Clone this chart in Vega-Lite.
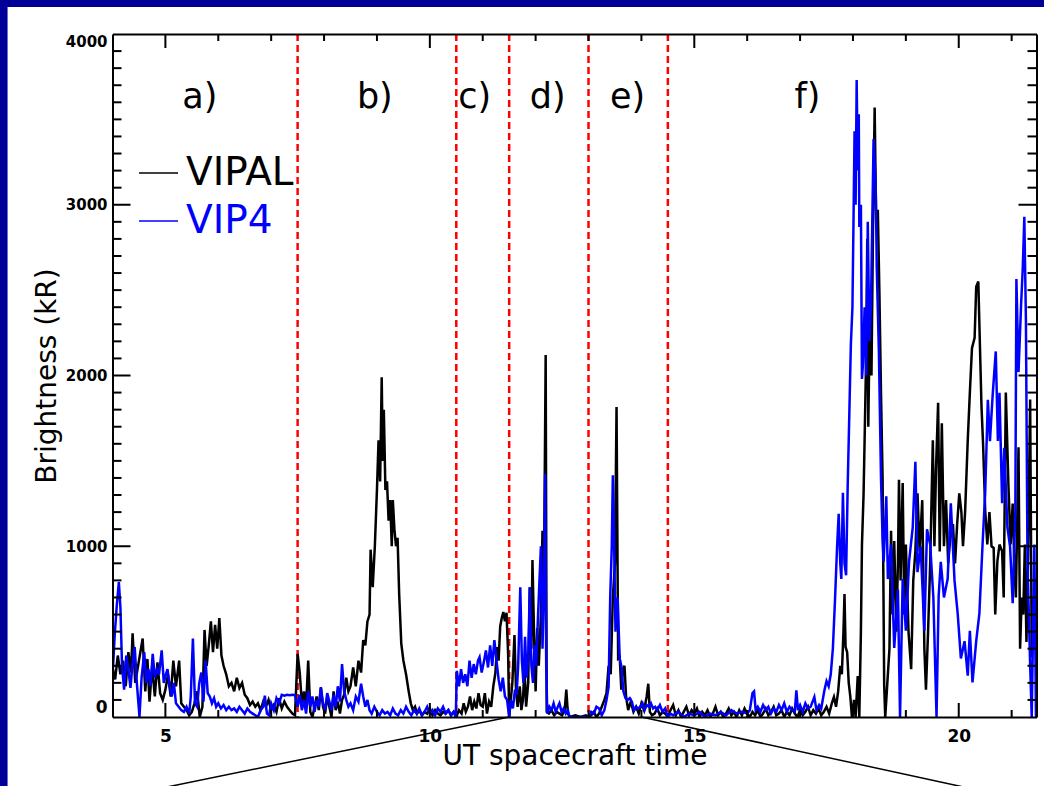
{
  "$schema": "https://vega.github.io/schema/vega-lite/v6.json",
  "width": 924,
  "height": 683,
  "autosize": {"type": "none"},
  "padding": {"left": 112.5, "top": 34, "right": 7.3, "bottom": 69},
  "background": "#ffffff",
  "config": {
    "font": "DejaVu Sans",
    "view": {"stroke": null},
    "axis": {"grid": false, "domainColor": "#000000", "tickColor": "#000000", "labelColor": "#000000", "titleColor": "#000000"}
  },
  "resolve": {"axis": {"x": "independent", "y": "independent"}},
  "datasets": {
    "xmaj": [{"t": 5}, {"t": 10}, {"t": 15}, {"t": 20}],
    "xmin": [{"t": 6}, {"t": 7}, {"t": 8}, {"t": 9}, {"t": 11}, {"t": 12}, {"t": 13}, {"t": 14}, {"t": 16}, {"t": 17}, {"t": 18}, {"t": 19}, {"t": 21}],
    "ymaj": [{"v": 1000}, {"v": 2000}, {"v": 3000}],
    "ymin": [{"v":100},{"v":200},{"v":300},{"v":400},{"v":500},{"v":600},{"v":700},{"v":800},{"v":900},{"v":1100},{"v":1200},{"v":1300},{"v":1400},{"v":1500},{"v":1600},{"v":1700},{"v":1800},{"v":1900},{"v":2100},{"v":2200},{"v":2300},{"v":2400},{"v":2500},{"v":2600},{"v":2700},{"v":2800},{"v":2900},{"v":3100},{"v":3200},{"v":3300},{"v":3400},{"v":3500},{"v":3600},{"v":3700},{"v":3800},{"v":3900}],
    "series": [
      {"s":"VIPAL","t":4.00,"v":290},{"s":"VIPAL","t":4.05,"v":220},{"s":"VIPAL","t":4.10,"v":360},{"s":"VIPAL","t":4.15,"v":250},{"s":"VIPAL","t":4.20,"v":330},{"s":"VIPAL","t":4.25,"v":180},{"s":"VIPAL","t":4.30,"v":380},{"s":"VIPAL","t":4.35,"v":260},{"s":"VIPAL","t":4.38,"v":490},{"s":"VIPAL","t":4.43,"v":200},{"s":"VIPAL","t":4.50,"v":330},{"s":"VIPAL","t":4.57,"v":460},{"s":"VIPAL","t":4.62,"v":150},{"s":"VIPAL","t":4.66,"v":340},{"s":"VIPAL","t":4.70,"v":90},{"s":"VIPAL","t":4.75,"v":300},{"s":"VIPAL","t":4.80,"v":120},{"s":"VIPAL","t":4.85,"v":320},{"s":"VIPAL","t":4.90,"v":140},{"s":"VIPAL","t":4.95,"v":100},
      {"s":"VIPAL","t":5.00,"v":160},{"s":"VIPAL","t":5.05,"v":250},{"s":"VIPAL","t":5.10,"v":120},{"s":"VIPAL","t":5.15,"v":330},{"s":"VIPAL","t":5.20,"v":180},{"s":"VIPAL","t":5.26,"v":330},{"s":"VIPAL","t":5.30,"v":80},{"s":"VIPAL","t":5.35,"v":60},{"s":"VIPAL","t":5.40,"v":40},{"s":"VIPAL","t":5.45,"v":10},{"s":"VIPAL","t":5.50,"v":30},{"s":"VIPAL","t":5.55,"v":80},{"s":"VIPAL","t":5.60,"v":150},{"s":"VIPAL","t":5.65,"v":0},{"s":"VIPAL","t":5.70,"v":60},{"s":"VIPAL","t":5.74,"v":510},{"s":"VIPAL","t":5.78,"v":300},{"s":"VIPAL","t":5.82,"v":420},{"s":"VIPAL","t":5.86,"v":560},{"s":"VIPAL","t":5.90,"v":380},{"s":"VIPAL","t":5.94,"v":540},{"s":"VIPAL","t":5.98,"v":400},
      {"s":"VIPAL","t":6.02,"v":580},{"s":"VIPAL","t":6.06,"v":360},{"s":"VIPAL","t":6.10,"v":300},{"s":"VIPAL","t":6.15,"v":250},{"s":"VIPAL","t":6.20,"v":180},{"s":"VIPAL","t":6.25,"v":200},{"s":"VIPAL","t":6.30,"v":150},{"s":"VIPAL","t":6.35,"v":230},{"s":"VIPAL","t":6.40,"v":170},{"s":"VIPAL","t":6.45,"v":200},{"s":"VIPAL","t":6.50,"v":130},{"s":"VIPAL","t":6.55,"v":110},{"s":"VIPAL","t":6.60,"v":70},{"s":"VIPAL","t":6.65,"v":90},{"s":"VIPAL","t":6.70,"v":60},{"s":"VIPAL","t":6.75,"v":80},{"s":"VIPAL","t":6.80,"v":40},{"s":"VIPAL","t":6.85,"v":90},{"s":"VIPAL","t":6.90,"v":60},{"s":"VIPAL","t":6.95,"v":100},
      {"s":"VIPAL","t":7.00,"v":40},{"s":"VIPAL","t":7.05,"v":70},{"s":"VIPAL","t":7.10,"v":30},{"s":"VIPAL","t":7.15,"v":110},{"s":"VIPAL","t":7.20,"v":50},{"s":"VIPAL","t":7.25,"v":90},{"s":"VIPAL","t":7.30,"v":60},{"s":"VIPAL","t":7.35,"v":40},{"s":"VIPAL","t":7.40,"v":20},{"s":"VIPAL","t":7.45,"v":10},{"s":"VIPAL","t":7.50,"v":370},{"s":"VIPAL","t":7.54,"v":260},{"s":"VIPAL","t":7.58,"v":80},{"s":"VIPAL","t":7.62,"v":150},{"s":"VIPAL","t":7.66,"v":60},{"s":"VIPAL","t":7.70,"v":330},{"s":"VIPAL","t":7.74,"v":30},{"s":"VIPAL","t":7.78,"v":0},{"s":"VIPAL","t":7.82,"v":60},{"s":"VIPAL","t":7.86,"v":120},{"s":"VIPAL","t":7.90,"v":40},{"s":"VIPAL","t":7.94,"v":170},{"s":"VIPAL","t":7.98,"v":60},
      {"s":"VIPAL","t":8.02,"v":20},{"s":"VIPAL","t":8.06,"v":120},{"s":"VIPAL","t":8.10,"v":60},{"s":"VIPAL","t":8.14,"v":0},{"s":"VIPAL","t":8.18,"v":150},{"s":"VIPAL","t":8.22,"v":40},{"s":"VIPAL","t":8.26,"v":90},{"s":"VIPAL","t":8.30,"v":20},{"s":"VIPAL","t":8.34,"v":100},{"s":"VIPAL","t":8.38,"v":130},{"s":"VIPAL","t":8.42,"v":230},{"s":"VIPAL","t":8.46,"v":150},{"s":"VIPAL","t":8.50,"v":180},{"s":"VIPAL","t":8.55,"v":290},{"s":"VIPAL","t":8.60,"v":180},{"s":"VIPAL","t":8.65,"v":330},{"s":"VIPAL","t":8.70,"v":260},{"s":"VIPAL","t":8.74,"v":450},{"s":"VIPAL","t":8.78,"v":420},{"s":"VIPAL","t":8.82,"v":560},{"s":"VIPAL","t":8.86,"v":600},{"s":"VIPAL","t":8.88,"v":980},{"s":"VIPAL","t":8.92,"v":760},{"s":"VIPAL","t":8.96,"v":1000},
      {"s":"VIPAL","t":9.00,"v":1330},{"s":"VIPAL","t":9.03,"v":1620},{"s":"VIPAL","t":9.06,"v":1380},{"s":"VIPAL","t":9.09,"v":1990},{"s":"VIPAL","t":9.11,"v":1500},{"s":"VIPAL","t":9.13,"v":1800},{"s":"VIPAL","t":9.16,"v":1330},{"s":"VIPAL","t":9.19,"v":1380},{"s":"VIPAL","t":9.22,"v":1150},{"s":"VIPAL","t":9.25,"v":1270},{"s":"VIPAL","t":9.28,"v":1000},{"s":"VIPAL","t":9.30,"v":1270},{"s":"VIPAL","t":9.33,"v":1100},{"s":"VIPAL","t":9.36,"v":1000},{"s":"VIPAL","t":9.39,"v":1050},{"s":"VIPAL","t":9.42,"v":720},{"s":"VIPAL","t":9.46,"v":430},{"s":"VIPAL","t":9.50,"v":330},{"s":"VIPAL","t":9.55,"v":250},{"s":"VIPAL","t":9.60,"v":150},{"s":"VIPAL","t":9.64,"v":80},{"s":"VIPAL","t":9.68,"v":40},{"s":"VIPAL","t":9.72,"v":60},{"s":"VIPAL","t":9.76,"v":20},{"s":"VIPAL","t":9.80,"v":40},{"s":"VIPAL","t":9.85,"v":10},{"s":"VIPAL","t":9.90,"v":30},{"s":"VIPAL","t":9.95,"v":20},
      {"s":"VIPAL","t":10.00,"v":50},{"s":"VIPAL","t":10.05,"v":10},{"s":"VIPAL","t":10.10,"v":40},{"s":"VIPAL","t":10.15,"v":20},{"s":"VIPAL","t":10.20,"v":10},{"s":"VIPAL","t":10.25,"v":30},{"s":"VIPAL","t":10.30,"v":20},{"s":"VIPAL","t":10.35,"v":40},{"s":"VIPAL","t":10.40,"v":10},{"s":"VIPAL","t":10.45,"v":30},{"s":"VIPAL","t":10.50,"v":0},{"s":"VIPAL","t":10.55,"v":40},{"s":"VIPAL","t":10.60,"v":20},{"s":"VIPAL","t":10.64,"v":80},{"s":"VIPAL","t":10.68,"v":30},{"s":"VIPAL","t":10.72,"v":60},{"s":"VIPAL","t":10.76,"v":120},{"s":"VIPAL","t":10.80,"v":40},{"s":"VIPAL","t":10.84,"v":90},{"s":"VIPAL","t":10.88,"v":50},{"s":"VIPAL","t":10.92,"v":140},{"s":"VIPAL","t":10.96,"v":70},
      {"s":"VIPAL","t":11.00,"v":60},{"s":"VIPAL","t":11.04,"v":140},{"s":"VIPAL","t":11.08,"v":20},{"s":"VIPAL","t":11.12,"v":90},{"s":"VIPAL","t":11.16,"v":60},{"s":"VIPAL","t":11.20,"v":180},{"s":"VIPAL","t":11.24,"v":260},{"s":"VIPAL","t":11.27,"v":410},{"s":"VIPAL","t":11.30,"v":330},{"s":"VIPAL","t":11.33,"v":530},{"s":"VIPAL","t":11.36,"v":580},{"s":"VIPAL","t":11.39,"v":615},{"s":"VIPAL","t":11.42,"v":560},{"s":"VIPAL","t":11.45,"v":610},{"s":"VIPAL","t":11.48,"v":370},{"s":"VIPAL","t":11.50,"v":0},{"s":"VIPAL","t":11.53,"v":100},{"s":"VIPAL","t":11.56,"v":200},{"s":"VIPAL","t":11.60,"v":480},{"s":"VIPAL","t":11.63,"v":150},{"s":"VIPAL","t":11.66,"v":60},{"s":"VIPAL","t":11.70,"v":180},{"s":"VIPAL","t":11.73,"v":40},{"s":"VIPAL","t":11.76,"v":100},{"s":"VIPAL","t":11.79,"v":290},{"s":"VIPAL","t":11.82,"v":60},{"s":"VIPAL","t":11.86,"v":200},{"s":"VIPAL","t":11.89,"v":760},{"s":"VIPAL","t":11.92,"v":400},{"s":"VIPAL","t":11.94,"v":920},{"s":"VIPAL","t":11.97,"v":490},
      {"s":"VIPAL","t":12.00,"v":150},{"s":"VIPAL","t":12.03,"v":520},{"s":"VIPAL","t":12.06,"v":300},{"s":"VIPAL","t":12.10,"v":600},{"s":"VIPAL","t":12.13,"v":1090},{"s":"VIPAL","t":12.16,"v":900},{"s":"VIPAL","t":12.19,"v":2120},{"s":"VIPAL","t":12.21,"v":30},{"s":"VIPAL","t":12.25,"v":20},{"s":"VIPAL","t":12.30,"v":40},{"s":"VIPAL","t":12.35,"v":10},{"s":"VIPAL","t":12.40,"v":30},{"s":"VIPAL","t":12.45,"v":20},{"s":"VIPAL","t":12.50,"v":10},{"s":"VIPAL","t":12.55,"v":40},{"s":"VIPAL","t":12.58,"v":160},{"s":"VIPAL","t":12.61,"v":20},{"s":"VIPAL","t":12.65,"v":0},{"s":"VIPAL","t":12.75,"v":10},{"s":"VIPAL","t":12.85,"v":0},{"s":"VIPAL","t":12.95,"v":10},
      {"s":"VIPAL","t":13.00,"v":0},{"s":"VIPAL","t":13.05,"v":10},{"s":"VIPAL","t":13.10,"v":30},{"s":"VIPAL","t":13.15,"v":0},{"s":"VIPAL","t":13.20,"v":20},{"s":"VIPAL","t":13.25,"v":60},{"s":"VIPAL","t":13.30,"v":100},{"s":"VIPAL","t":13.34,"v":140},{"s":"VIPAL","t":13.38,"v":300},{"s":"VIPAL","t":13.42,"v":250},{"s":"VIPAL","t":13.46,"v":700},{"s":"VIPAL","t":13.50,"v":900},{"s":"VIPAL","t":13.53,"v":1815},{"s":"VIPAL","t":13.56,"v":342},{"s":"VIPAL","t":13.59,"v":350},{"s":"VIPAL","t":13.62,"v":160},{"s":"VIPAL","t":13.65,"v":280},{"s":"VIPAL","t":13.68,"v":300},{"s":"VIPAL","t":13.71,"v":120},{"s":"VIPAL","t":13.75,"v":40},{"s":"VIPAL","t":13.80,"v":90},{"s":"VIPAL","t":13.85,"v":30},{"s":"VIPAL","t":13.90,"v":60},{"s":"VIPAL","t":13.95,"v":20},
      {"s":"VIPAL","t":14.00,"v":80},{"s":"VIPAL","t":14.05,"v":40},{"s":"VIPAL","t":14.10,"v":120},{"s":"VIPAL","t":14.13,"v":195},{"s":"VIPAL","t":14.16,"v":30},{"s":"VIPAL","t":14.20,"v":10},{"s":"VIPAL","t":14.25,"v":20},{"s":"VIPAL","t":14.30,"v":50},{"s":"VIPAL","t":14.35,"v":10},{"s":"VIPAL","t":14.40,"v":30},{"s":"VIPAL","t":14.45,"v":20},{"s":"VIPAL","t":14.50,"v":0},{"s":"VIPAL","t":14.55,"v":40},{"s":"VIPAL","t":14.60,"v":70},{"s":"VIPAL","t":14.65,"v":10},{"s":"VIPAL","t":14.70,"v":40},{"s":"VIPAL","t":14.75,"v":0},{"s":"VIPAL","t":14.80,"v":30},{"s":"VIPAL","t":14.85,"v":60},{"s":"VIPAL","t":14.90,"v":10},{"s":"VIPAL","t":14.95,"v":40},
      {"s":"VIPAL","t":15.00,"v":20},{"s":"VIPAL","t":15.05,"v":50},{"s":"VIPAL","t":15.10,"v":0},{"s":"VIPAL","t":15.15,"v":30},{"s":"VIPAL","t":15.20,"v":10},{"s":"VIPAL","t":15.25,"v":40},{"s":"VIPAL","t":15.30,"v":0},{"s":"VIPAL","t":15.35,"v":20},{"s":"VIPAL","t":15.40,"v":60},{"s":"VIPAL","t":15.45,"v":10},{"s":"VIPAL","t":15.50,"v":30},{"s":"VIPAL","t":15.55,"v":0},{"s":"VIPAL","t":15.60,"v":20},{"s":"VIPAL","t":15.65,"v":50},{"s":"VIPAL","t":15.70,"v":10},{"s":"VIPAL","t":15.75,"v":30},{"s":"VIPAL","t":15.80,"v":0},{"s":"VIPAL","t":15.85,"v":40},{"s":"VIPAL","t":15.90,"v":10},{"s":"VIPAL","t":15.95,"v":50},
      {"s":"VIPAL","t":16.00,"v":20},{"s":"VIPAL","t":16.05,"v":0},{"s":"VIPAL","t":16.10,"v":30},{"s":"VIPAL","t":16.15,"v":10},{"s":"VIPAL","t":16.20,"v":40},{"s":"VIPAL","t":16.25,"v":0},{"s":"VIPAL","t":16.30,"v":20},{"s":"VIPAL","t":16.35,"v":50},{"s":"VIPAL","t":16.40,"v":10},{"s":"VIPAL","t":16.45,"v":30},{"s":"VIPAL","t":16.50,"v":60},{"s":"VIPAL","t":16.55,"v":10},{"s":"VIPAL","t":16.60,"v":20},{"s":"VIPAL","t":16.65,"v":40},{"s":"VIPAL","t":16.70,"v":0},{"s":"VIPAL","t":16.75,"v":30},{"s":"VIPAL","t":16.80,"v":10},{"s":"VIPAL","t":16.85,"v":50},{"s":"VIPAL","t":16.90,"v":20},{"s":"VIPAL","t":16.95,"v":0},
      {"s":"VIPAL","t":17.00,"v":40},{"s":"VIPAL","t":17.05,"v":10},{"s":"VIPAL","t":17.10,"v":30},{"s":"VIPAL","t":17.15,"v":60},{"s":"VIPAL","t":17.20,"v":10},{"s":"VIPAL","t":17.25,"v":40},{"s":"VIPAL","t":17.30,"v":20},{"s":"VIPAL","t":17.35,"v":50},{"s":"VIPAL","t":17.40,"v":10},{"s":"VIPAL","t":17.45,"v":30},{"s":"VIPAL","t":17.50,"v":60},{"s":"VIPAL","t":17.55,"v":20},{"s":"VIPAL","t":17.60,"v":80},{"s":"VIPAL","t":17.64,"v":117},{"s":"VIPAL","t":17.68,"v":60},{"s":"VIPAL","t":17.72,"v":150},{"s":"VIPAL","t":17.76,"v":300},{"s":"VIPAL","t":17.79,"v":250},{"s":"VIPAL","t":17.82,"v":500},{"s":"VIPAL","t":17.84,"v":720},{"s":"VIPAL","t":17.86,"v":410},{"s":"VIPAL","t":17.89,"v":380},{"s":"VIPAL","t":17.92,"v":200},{"s":"VIPAL","t":17.95,"v":120},{"s":"VIPAL","t":17.98,"v":0},
      {"s":"VIPAL","t":18.02,"v":100},{"s":"VIPAL","t":18.05,"v":0},{"s":"VIPAL","t":18.09,"v":240},{"s":"VIPAL","t":18.12,"v":0},{"s":"VIPAL","t":18.15,"v":500},{"s":"VIPAL","t":18.17,"v":1010},{"s":"VIPAL","t":18.20,"v":1300},{"s":"VIPAL","t":18.22,"v":1620},{"s":"VIPAL","t":18.25,"v":2120},{"s":"VIPAL","t":18.27,"v":2800},{"s":"VIPAL","t":18.29,"v":1700},{"s":"VIPAL","t":18.32,"v":2400},{"s":"VIPAL","t":18.35,"v":2000},{"s":"VIPAL","t":18.38,"v":2900},{"s":"VIPAL","t":18.41,"v":3570},{"s":"VIPAL","t":18.44,"v":2870},{"s":"VIPAL","t":18.47,"v":2970},{"s":"VIPAL","t":18.50,"v":2480},{"s":"VIPAL","t":18.53,"v":1900},{"s":"VIPAL","t":18.56,"v":1400},{"s":"VIPAL","t":18.59,"v":190},{"s":"VIPAL","t":18.61,"v":0},{"s":"VIPAL","t":18.65,"v":200},{"s":"VIPAL","t":18.69,"v":400},{"s":"VIPAL","t":18.72,"v":1090},{"s":"VIPAL","t":18.75,"v":600},{"s":"VIPAL","t":18.78,"v":1030},{"s":"VIPAL","t":18.82,"v":500},{"s":"VIPAL","t":18.85,"v":900},{"s":"VIPAL","t":18.87,"v":1390},{"s":"VIPAL","t":18.90,"v":800},{"s":"VIPAL","t":18.94,"v":1370},{"s":"VIPAL","t":18.97,"v":600},
      {"s":"VIPAL","t":19.00,"v":1010},{"s":"VIPAL","t":19.05,"v":500},{"s":"VIPAL","t":19.10,"v":280},{"s":"VIPAL","t":19.14,"v":800},{"s":"VIPAL","t":19.18,"v":970},{"s":"VIPAL","t":19.22,"v":1310},{"s":"VIPAL","t":19.26,"v":970},{"s":"VIPAL","t":19.31,"v":1270},{"s":"VIPAL","t":19.35,"v":400},{"s":"VIPAL","t":19.38,"v":160},{"s":"VIPAL","t":19.42,"v":500},{"s":"VIPAL","t":19.46,"v":900},{"s":"VIPAL","t":19.51,"v":1620},{"s":"VIPAL","t":19.54,"v":1000},{"s":"VIPAL","t":19.57,"v":1450},{"s":"VIPAL","t":19.61,"v":1840},{"s":"VIPAL","t":19.64,"v":970},{"s":"VIPAL","t":19.68,"v":1720},{"s":"VIPAL","t":19.72,"v":1000},{"s":"VIPAL","t":19.76,"v":1270},{"s":"VIPAL","t":19.80,"v":900},{"s":"VIPAL","t":19.84,"v":1050},{"s":"VIPAL","t":19.89,"v":1130},{"s":"VIPAL","t":19.93,"v":900},{"s":"VIPAL","t":19.97,"v":1130},
      {"s":"VIPAL","t":20.01,"v":1310},{"s":"VIPAL","t":20.05,"v":1200},{"s":"VIPAL","t":20.08,"v":1000},{"s":"VIPAL","t":20.12,"v":1200},{"s":"VIPAL","t":20.17,"v":1620},{"s":"VIPAL","t":20.21,"v":1900},{"s":"VIPAL","t":20.25,"v":2160},{"s":"VIPAL","t":20.30,"v":2220},{"s":"VIPAL","t":20.33,"v":2520},{"s":"VIPAL","t":20.37,"v":2550},{"s":"VIPAL","t":20.40,"v":2180},{"s":"VIPAL","t":20.43,"v":1820},{"s":"VIPAL","t":20.46,"v":1600},{"s":"VIPAL","t":20.50,"v":1210},{"s":"VIPAL","t":20.54,"v":1010},{"s":"VIPAL","t":20.58,"v":1200},{"s":"VIPAL","t":20.62,"v":1000},{"s":"VIPAL","t":20.66,"v":990},{"s":"VIPAL","t":20.69,"v":600},{"s":"VIPAL","t":20.73,"v":910},{"s":"VIPAL","t":20.77,"v":1010},{"s":"VIPAL","t":20.82,"v":970},{"s":"VIPAL","t":20.85,"v":700},{"s":"VIPAL","t":20.89,"v":1900},{"s":"VIPAL","t":20.94,"v":1350},{"s":"VIPAL","t":20.98,"v":1010},
      {"s":"VIPAL","t":21.02,"v":1250},{"s":"VIPAL","t":21.05,"v":900},{"s":"VIPAL","t":21.08,"v":700},{"s":"VIPAL","t":21.13,"v":1580},{"s":"VIPAL","t":21.16,"v":400},{"s":"VIPAL","t":21.19,"v":700},{"s":"VIPAL","t":21.22,"v":600},{"s":"VIPAL","t":21.25,"v":1010},{"s":"VIPAL","t":21.28,"v":440},{"s":"VIPAL","t":21.31,"v":900},{"s":"VIPAL","t":21.35,"v":1860},{"s":"VIPAL","t":21.38,"v":350},{"s":"VIPAL","t":21.42,"v":700},{"s":"VIPAL","t":21.46,"v":400},

      {"s":"VIP4","t":4.00,"v":230},{"s":"VIP4","t":4.04,"v":470},{"s":"VIP4","t":4.08,"v":650},{"s":"VIP4","t":4.12,"v":790},{"s":"VIP4","t":4.15,"v":640},{"s":"VIP4","t":4.18,"v":300},{"s":"VIP4","t":4.22,"v":160},{"s":"VIP4","t":4.26,"v":360},{"s":"VIP4","t":4.30,"v":280},{"s":"VIP4","t":4.34,"v":170},{"s":"VIP4","t":4.38,"v":320},{"s":"VIP4","t":4.42,"v":410},{"s":"VIP4","t":4.46,"v":200},{"s":"VIP4","t":4.51,"v":0},{"s":"VIP4","t":4.55,"v":230},{"s":"VIP4","t":4.60,"v":380},{"s":"VIP4","t":4.64,"v":200},{"s":"VIP4","t":4.68,"v":280},{"s":"VIP4","t":4.72,"v":180},{"s":"VIP4","t":4.76,"v":370},{"s":"VIP4","t":4.80,"v":230},{"s":"VIP4","t":4.84,"v":280},{"s":"VIP4","t":4.88,"v":250},{"s":"VIP4","t":4.93,"v":390},{"s":"VIP4","t":4.97,"v":200},
      {"s":"VIP4","t":5.00,"v":240},{"s":"VIP4","t":5.04,"v":280},{"s":"VIP4","t":5.08,"v":180},{"s":"VIP4","t":5.12,"v":120},{"s":"VIP4","t":5.16,"v":200},{"s":"VIP4","t":5.20,"v":80},{"s":"VIP4","t":5.25,"v":60},{"s":"VIP4","t":5.30,"v":40},{"s":"VIP4","t":5.35,"v":30},{"s":"VIP4","t":5.40,"v":60},{"s":"VIP4","t":5.45,"v":20},{"s":"VIP4","t":5.48,"v":120},{"s":"VIP4","t":5.52,"v":460},{"s":"VIP4","t":5.56,"v":80},{"s":"VIP4","t":5.60,"v":60},{"s":"VIP4","t":5.64,"v":200},{"s":"VIP4","t":5.68,"v":260},{"s":"VIP4","t":5.72,"v":90},{"s":"VIP4","t":5.76,"v":330},{"s":"VIP4","t":5.80,"v":140},{"s":"VIP4","t":5.84,"v":120},{"s":"VIP4","t":5.88,"v":80},{"s":"VIP4","t":5.92,"v":110},{"s":"VIP4","t":5.96,"v":60},
      {"s":"VIP4","t":6.00,"v":80},{"s":"VIP4","t":6.05,"v":50},{"s":"VIP4","t":6.10,"v":70},{"s":"VIP4","t":6.15,"v":40},{"s":"VIP4","t":6.20,"v":60},{"s":"VIP4","t":6.25,"v":40},{"s":"VIP4","t":6.30,"v":50},{"s":"VIP4","t":6.35,"v":30},{"s":"VIP4","t":6.40,"v":60},{"s":"VIP4","t":6.45,"v":40},{"s":"VIP4","t":6.50,"v":20},{"s":"VIP4","t":6.55,"v":50},{"s":"VIP4","t":6.60,"v":30},{"s":"VIP4","t":6.65,"v":20},{"s":"VIP4","t":6.70,"v":10},{"s":"VIP4","t":6.75,"v":0},{"s":"VIP4","t":6.80,"v":40},{"s":"VIP4","t":6.85,"v":60},{"s":"VIP4","t":6.88,"v":125},{"s":"VIP4","t":6.92,"v":20},{"s":"VIP4","t":6.96,"v":10},
      {"s":"VIP4","t":7.00,"v":80},{"s":"VIP4","t":7.05,"v":40},{"s":"VIP4","t":7.10,"v":110},{"s":"VIP4","t":7.15,"v":80},{"s":"VIP4","t":7.20,"v":130},{"s":"VIP4","t":7.25,"v":125},{"s":"VIP4","t":7.30,"v":130},{"s":"VIP4","t":7.35,"v":128},{"s":"VIP4","t":7.40,"v":130},{"s":"VIP4","t":7.45,"v":128},{"s":"VIP4","t":7.50,"v":60},{"s":"VIP4","t":7.54,"v":130},{"s":"VIP4","t":7.58,"v":40},{"s":"VIP4","t":7.62,"v":100},{"s":"VIP4","t":7.66,"v":20},{"s":"VIP4","t":7.70,"v":150},{"s":"VIP4","t":7.74,"v":60},{"s":"VIP4","t":7.78,"v":120},{"s":"VIP4","t":7.82,"v":30},{"s":"VIP4","t":7.86,"v":100},{"s":"VIP4","t":7.90,"v":60},{"s":"VIP4","t":7.94,"v":175},{"s":"VIP4","t":7.98,"v":80},
      {"s":"VIP4","t":8.02,"v":40},{"s":"VIP4","t":8.06,"v":140},{"s":"VIP4","t":8.10,"v":90},{"s":"VIP4","t":8.14,"v":40},{"s":"VIP4","t":8.18,"v":130},{"s":"VIP4","t":8.22,"v":60},{"s":"VIP4","t":8.26,"v":180},{"s":"VIP4","t":8.30,"v":90},{"s":"VIP4","t":8.34,"v":310},{"s":"VIP4","t":8.38,"v":150},{"s":"VIP4","t":8.42,"v":100},{"s":"VIP4","t":8.46,"v":60},{"s":"VIP4","t":8.50,"v":80},{"s":"VIP4","t":8.55,"v":40},{"s":"VIP4","t":8.60,"v":120},{"s":"VIP4","t":8.65,"v":90},{"s":"VIP4","t":8.70,"v":195},{"s":"VIP4","t":8.74,"v":120},{"s":"VIP4","t":8.78,"v":60},{"s":"VIP4","t":8.82,"v":100},{"s":"VIP4","t":8.86,"v":40},{"s":"VIP4","t":8.90,"v":20},{"s":"VIP4","t":8.95,"v":60},
      {"s":"VIP4","t":9.00,"v":30},{"s":"VIP4","t":9.05,"v":10},{"s":"VIP4","t":9.10,"v":40},{"s":"VIP4","t":9.15,"v":20},{"s":"VIP4","t":9.20,"v":30},{"s":"VIP4","t":9.25,"v":10},{"s":"VIP4","t":9.30,"v":50},{"s":"VIP4","t":9.35,"v":20},{"s":"VIP4","t":9.40,"v":10},{"s":"VIP4","t":9.45,"v":40},{"s":"VIP4","t":9.50,"v":20},{"s":"VIP4","t":9.55,"v":60},{"s":"VIP4","t":9.60,"v":30},{"s":"VIP4","t":9.65,"v":10},{"s":"VIP4","t":9.70,"v":40},{"s":"VIP4","t":9.75,"v":20},{"s":"VIP4","t":9.80,"v":50},{"s":"VIP4","t":9.85,"v":10},{"s":"VIP4","t":9.90,"v":30},{"s":"VIP4","t":9.95,"v":60},
      {"s":"VIP4","t":10.00,"v":20},{"s":"VIP4","t":10.05,"v":40},{"s":"VIP4","t":10.10,"v":10},{"s":"VIP4","t":10.15,"v":50},{"s":"VIP4","t":10.20,"v":30},{"s":"VIP4","t":10.25,"v":60},{"s":"VIP4","t":10.30,"v":20},{"s":"VIP4","t":10.35,"v":40},{"s":"VIP4","t":10.40,"v":10},{"s":"VIP4","t":10.45,"v":30},{"s":"VIP4","t":10.49,"v":0},{"s":"VIP4","t":10.51,"v":270},{"s":"VIP4","t":10.55,"v":180},{"s":"VIP4","t":10.59,"v":280},{"s":"VIP4","t":10.63,"v":200},{"s":"VIP4","t":10.67,"v":250},{"s":"VIP4","t":10.71,"v":180},{"s":"VIP4","t":10.75,"v":330},{"s":"VIP4","t":10.79,"v":230},{"s":"VIP4","t":10.83,"v":310},{"s":"VIP4","t":10.87,"v":250},{"s":"VIP4","t":10.91,"v":330},{"s":"VIP4","t":10.94,"v":350},{"s":"VIP4","t":10.98,"v":260},
      {"s":"VIP4","t":11.02,"v":320},{"s":"VIP4","t":11.06,"v":390},{"s":"VIP4","t":11.10,"v":290},{"s":"VIP4","t":11.14,"v":420},{"s":"VIP4","t":11.18,"v":300},{"s":"VIP4","t":11.22,"v":450},{"s":"VIP4","t":11.26,"v":330},{"s":"VIP4","t":11.30,"v":220},{"s":"VIP4","t":11.34,"v":150},{"s":"VIP4","t":11.38,"v":230},{"s":"VIP4","t":11.42,"v":120},{"s":"VIP4","t":11.46,"v":100},{"s":"VIP4","t":11.50,"v":0},{"s":"VIP4","t":11.53,"v":100},{"s":"VIP4","t":11.57,"v":50},{"s":"VIP4","t":11.61,"v":160},{"s":"VIP4","t":11.64,"v":130},{"s":"VIP4","t":11.67,"v":300},{"s":"VIP4","t":11.71,"v":760},{"s":"VIP4","t":11.74,"v":330},{"s":"VIP4","t":11.77,"v":200},{"s":"VIP4","t":11.80,"v":470},{"s":"VIP4","t":11.83,"v":230},{"s":"VIP4","t":11.86,"v":350},{"s":"VIP4","t":11.89,"v":760},{"s":"VIP4","t":11.92,"v":300},{"s":"VIP4","t":11.95,"v":200},{"s":"VIP4","t":11.98,"v":420},
      {"s":"VIP4","t":12.01,"v":300},{"s":"VIP4","t":12.04,"v":550},{"s":"VIP4","t":12.07,"v":780},{"s":"VIP4","t":12.10,"v":1000},{"s":"VIP4","t":12.13,"v":400},{"s":"VIP4","t":12.16,"v":800},{"s":"VIP4","t":12.18,"v":1425},{"s":"VIP4","t":12.20,"v":300},{"s":"VIP4","t":12.22,"v":20},{"s":"VIP4","t":12.26,"v":60},{"s":"VIP4","t":12.30,"v":40},{"s":"VIP4","t":12.34,"v":80},{"s":"VIP4","t":12.38,"v":30},{"s":"VIP4","t":12.42,"v":60},{"s":"VIP4","t":12.45,"v":80},{"s":"VIP4","t":12.49,"v":30},{"s":"VIP4","t":12.53,"v":50},{"s":"VIP4","t":12.57,"v":20},{"s":"VIP4","t":12.61,"v":40},{"s":"VIP4","t":12.64,"v":0},
      {"s":"VIP4","t":13.00,"v":0},{"s":"VIP4","t":13.05,"v":30},{"s":"VIP4","t":13.10,"v":20},{"s":"VIP4","t":13.15,"v":60},{"s":"VIP4","t":13.20,"v":50},{"s":"VIP4","t":13.25,"v":10},{"s":"VIP4","t":13.30,"v":40},{"s":"VIP4","t":13.34,"v":100},{"s":"VIP4","t":13.38,"v":176},{"s":"VIP4","t":13.41,"v":700},{"s":"VIP4","t":13.44,"v":1000},{"s":"VIP4","t":13.46,"v":1415},{"s":"VIP4","t":13.48,"v":1100},{"s":"VIP4","t":13.51,"v":500},{"s":"VIP4","t":13.55,"v":700},{"s":"VIP4","t":13.59,"v":340},{"s":"VIP4","t":13.62,"v":300},{"s":"VIP4","t":13.66,"v":150},{"s":"VIP4","t":13.70,"v":110},{"s":"VIP4","t":13.74,"v":100},{"s":"VIP4","t":13.78,"v":110},{"s":"VIP4","t":13.82,"v":90},{"s":"VIP4","t":13.86,"v":40},{"s":"VIP4","t":13.90,"v":60},{"s":"VIP4","t":13.94,"v":50},{"s":"VIP4","t":13.98,"v":60},
      {"s":"VIP4","t":14.02,"v":80},{"s":"VIP4","t":14.06,"v":40},{"s":"VIP4","t":14.10,"v":70},{"s":"VIP4","t":14.14,"v":60},{"s":"VIP4","t":14.18,"v":80},{"s":"VIP4","t":14.22,"v":50},{"s":"VIP4","t":14.26,"v":60},{"s":"VIP4","t":14.30,"v":40},{"s":"VIP4","t":14.35,"v":70},{"s":"VIP4","t":14.40,"v":30},{"s":"VIP4","t":14.45,"v":50},{"s":"VIP4","t":14.50,"v":0},{"s":"VIP4","t":14.55,"v":20},{"s":"VIP4","t":14.60,"v":10},{"s":"VIP4","t":14.70,"v":30},{"s":"VIP4","t":14.80,"v":0},{"s":"VIP4","t":14.90,"v":20},{"s":"VIP4","t":15.00,"v":10},{"s":"VIP4","t":15.10,"v":30},{"s":"VIP4","t":15.20,"v":0},{"s":"VIP4","t":15.30,"v":20},{"s":"VIP4","t":15.40,"v":10},{"s":"VIP4","t":15.50,"v":30},{"s":"VIP4","t":15.60,"v":10},{"s":"VIP4","t":15.70,"v":40},{"s":"VIP4","t":15.80,"v":20},{"s":"VIP4","t":15.90,"v":30},
      {"s":"VIP4","t":16.00,"v":20},{"s":"VIP4","t":16.05,"v":40},{"s":"VIP4","t":16.10,"v":140},{"s":"VIP4","t":16.13,"v":150},{"s":"VIP4","t":16.16,"v":40},{"s":"VIP4","t":16.20,"v":60},{"s":"VIP4","t":16.25,"v":30},{"s":"VIP4","t":16.30,"v":70},{"s":"VIP4","t":16.35,"v":40},{"s":"VIP4","t":16.40,"v":60},{"s":"VIP4","t":16.45,"v":20},{"s":"VIP4","t":16.50,"v":50},{"s":"VIP4","t":16.55,"v":30},{"s":"VIP4","t":16.60,"v":70},{"s":"VIP4","t":16.65,"v":40},{"s":"VIP4","t":16.70,"v":80},{"s":"VIP4","t":16.75,"v":30},{"s":"VIP4","t":16.80,"v":60},{"s":"VIP4","t":16.85,"v":40},{"s":"VIP4","t":16.90,"v":30},{"s":"VIP4","t":16.93,"v":156},{"s":"VIP4","t":16.96,"v":40},
      {"s":"VIP4","t":17.00,"v":70},{"s":"VIP4","t":17.05,"v":30},{"s":"VIP4","t":17.10,"v":80},{"s":"VIP4","t":17.15,"v":50},{"s":"VIP4","t":17.20,"v":60},{"s":"VIP4","t":17.27,"v":117},{"s":"VIP4","t":17.31,"v":40},{"s":"VIP4","t":17.36,"v":70},{"s":"VIP4","t":17.40,"v":50},{"s":"VIP4","t":17.46,"v":156},{"s":"VIP4","t":17.50,"v":210},{"s":"VIP4","t":17.54,"v":180},{"s":"VIP4","t":17.58,"v":250},{"s":"VIP4","t":17.62,"v":400},{"s":"VIP4","t":17.66,"v":683},{"s":"VIP4","t":17.70,"v":1000},{"s":"VIP4","t":17.73,"v":1190},{"s":"VIP4","t":17.76,"v":900},{"s":"VIP4","t":17.78,"v":808},{"s":"VIP4","t":17.81,"v":1313},{"s":"VIP4","t":17.84,"v":900},{"s":"VIP4","t":17.87,"v":830},{"s":"VIP4","t":17.90,"v":1350},{"s":"VIP4","t":17.93,"v":1760},{"s":"VIP4","t":17.96,"v":2180},{"s":"VIP4","t":17.99,"v":2400},
      {"s":"VIP4","t":18.01,"v":2900},{"s":"VIP4","t":18.03,"v":3430},{"s":"VIP4","t":18.05,"v":3000},{"s":"VIP4","t":18.07,"v":3730},{"s":"VIP4","t":18.09,"v":3200},{"s":"VIP4","t":18.11,"v":3530},{"s":"VIP4","t":18.12,"v":2870},{"s":"VIP4","t":18.15,"v":3000},{"s":"VIP4","t":18.17,"v":1980},{"s":"VIP4","t":18.19,"v":2070},{"s":"VIP4","t":18.22,"v":2400},{"s":"VIP4","t":18.25,"v":2000},{"s":"VIP4","t":18.28,"v":2900},{"s":"VIP4","t":18.31,"v":2200},{"s":"VIP4","t":18.34,"v":2400},{"s":"VIP4","t":18.37,"v":3000},{"s":"VIP4","t":18.39,"v":3385},{"s":"VIP4","t":18.43,"v":3116},{"s":"VIP4","t":18.45,"v":2630},{"s":"VIP4","t":18.49,"v":2140},{"s":"VIP4","t":18.53,"v":1400},{"s":"VIP4","t":18.56,"v":1040},{"s":"VIP4","t":18.58,"v":909},{"s":"VIP4","t":18.63,"v":1293},{"s":"VIP4","t":18.66,"v":808},{"s":"VIP4","t":18.72,"v":1010},{"s":"VIP4","t":18.78,"v":404},{"s":"VIP4","t":18.85,"v":747},{"s":"VIP4","t":18.89,"v":0},{"s":"VIP4","t":18.94,"v":808},
      {"s":"VIP4","t":19.00,"v":505},{"s":"VIP4","t":19.06,"v":909},{"s":"VIP4","t":19.13,"v":1111},{"s":"VIP4","t":19.18,"v":1495},{"s":"VIP4","t":19.22,"v":848},{"s":"VIP4","t":19.28,"v":1000},{"s":"VIP4","t":19.35,"v":505},{"s":"VIP4","t":19.40,"v":1100},{"s":"VIP4","t":19.46,"v":1010},{"s":"VIP4","t":19.52,"v":700},{"s":"VIP4","t":19.58,"v":0},{"s":"VIP4","t":19.62,"v":707},{"s":"VIP4","t":19.66,"v":909},{"s":"VIP4","t":19.72,"v":700},{"s":"VIP4","t":19.79,"v":808},{"s":"VIP4","t":19.85,"v":1252},{"s":"VIP4","t":19.92,"v":800},{"s":"VIP4","t":19.98,"v":606},
      {"s":"VIP4","t":20.04,"v":343},{"s":"VIP4","t":20.11,"v":444},{"s":"VIP4","t":20.17,"v":242},{"s":"VIP4","t":20.21,"v":505},{"s":"VIP4","t":20.26,"v":202},{"s":"VIP4","t":20.33,"v":444},{"s":"VIP4","t":20.39,"v":606},{"s":"VIP4","t":20.45,"v":1010},{"s":"VIP4","t":20.50,"v":1313},{"s":"VIP4","t":20.55,"v":1858},{"s":"VIP4","t":20.59,"v":1616},{"s":"VIP4","t":20.64,"v":1879},{"s":"VIP4","t":20.70,"v":2141},{"s":"VIP4","t":20.74,"v":1616},{"s":"VIP4","t":20.77,"v":1899},{"s":"VIP4","t":20.82,"v":1252},{"s":"VIP4","t":20.86,"v":1576},{"s":"VIP4","t":20.92,"v":1111},{"s":"VIP4","t":20.97,"v":1000},
      {"s":"VIP4","t":21.02,"v":667},{"s":"VIP4","t":21.07,"v":1212},{"s":"VIP4","t":21.09,"v":2565},{"s":"VIP4","t":21.13,"v":2020},{"s":"VIP4","t":21.18,"v":2424},{"s":"VIP4","t":21.21,"v":2626},{"s":"VIP4","t":21.24,"v":2929},{"s":"VIP4","t":21.27,"v":2323},{"s":"VIP4","t":21.30,"v":909},{"s":"VIP4","t":21.35,"v":303},{"s":"VIP4","t":21.38,"v":0},{"s":"VIP4","t":21.43,"v":1010},{"s":"VIP4","t":21.46,"v":0}
    ]
  },
  "layer": [
    {
      "data": {"values": [{"t": 1.7, "t2": 2.016, "v": -700, "v2": 4400}, {"t": 1.7, "t2": 22.5, "v": 4158, "v2": 4400}]},
      "mark": {"type": "rect", "color": "#000099", "clip": false},
      "encoding": {
        "x": {"field": "t", "type": "quantitative", "scale": {"domain": [4, 21.47], "nice": false, "zero": false}, "axis": null},
        "x2": {"field": "t2"},
        "y": {"field": "v", "type": "quantitative", "scale": {"domain": [0, 4000], "nice": false, "zero": false}, "axis": null},
        "y2": {"field": "v2"}
      }
    },
    {
      "data": {"values": [{"t": 7.5}, {"t": 10.5}, {"t": 11.5}, {"t": 13.0}, {"t": 14.5}]},
      "mark": {"type": "rule", "color": "#ff0000", "strokeWidth": 2.5, "strokeDash": [7, 4]},
      "encoding": {
        "x": {"field": "t", "type": "quantitative", "scale": {"domain": [4, 21.47], "nice": false, "zero": false}, "axis": null}
      }
    },
    {
      "data": {"name": "series"},
      "mark": {"type": "line", "strokeWidth": 2.5, "clip": true},
      "encoding": {
        "x": {"field": "t", "type": "quantitative", "scale": {"domain": [4, 21.47], "nice": false, "zero": false},
          "axis": {"orient": "bottom", "zindex": 2, "values": [5, 10, 15, 20], "format": "d", "ticks": false, "domain": true, "domainWidth": 2, "labelFont": "DejaVu Sans", "labelFontWeight": "bold", "labelFontSize": 17, "labelPadding": 12, "labelOverlap": false, "labelFlush": false,
            "title": "UT spacecraft time", "titleFont": "DejaVu Sans", "titleFontSize": 28, "titleFontWeight": "normal", "titleBaseline": "alphabetic", "titleY": 48}},
        "y": {"field": "v", "type": "quantitative", "scale": {"domain": [0, 4000], "nice": false, "zero": false},
          "axis": {"orient": "left", "zindex": 2, "values": [0, 1000, 2000, 3000, 4000], "format": "d", "ticks": false, "domain": true, "domainWidth": 2, "labelFont": "DejaVu Sans", "labelFontWeight": "bold",
            "labelFontSize": {"expr": "datum.value === 0 ? 17 : 15"}, "labelPadding": 5.5, "labelFlush": true, "labelOverlap": false,
            "title": "Brightness (kR)", "titleFont": "DejaVu Sans", "titleFontSize": 28, "titleFontWeight": "normal", "titleBaseline": "alphabetic", "titleX": -57}},
        "color": {"field": "s", "type": "nominal", "scale": {"domain": ["VIPAL", "VIP4"], "range": ["#000000", "#0000ff"]},
          "legend": {"orient": "none", "legendX": 25.5, "legendY": 118.5, "title": null, "padding": 0, "symbolType": "stroke", "symbolSize": 1521, "symbolStrokeWidth": 1.5,
            "labelFont": "DejaVu Sans", "labelFontSize": 39, "labelOffset": 7, "rowPadding": 7, "labelLimit": 0,
            "encode": {"labels": {"update": {"fill": {"signal": "datum.value === 'VIP4' ? '#0000ff' : '#000000'"}}}}}},
        "order": {"field": "t", "type": "quantitative"}
      }
    },
    {
      "data": {"values": [
        {"t": 5.65, "v": 3564, "label": "a)"},
        {"t": 8.96, "v": 3564, "label": "b)"},
        {"t": 10.85, "v": 3564, "label": "c)"},
        {"t": 12.23, "v": 3564, "label": "d)"},
        {"t": 13.74, "v": 3564, "label": "e)"},
        {"t": 17.14, "v": 3564, "label": "f)"}
      ]},
      "mark": {"type": "text", "font": "DejaVu Sans", "fontSize": 35, "align": "center", "baseline": "alphabetic", "color": "#000000"},
      "encoding": {
        "x": {"field": "t", "type": "quantitative", "scale": {"domain": [4, 21.47], "nice": false, "zero": false},
          "axis": {"orient": "top", "zindex": 2, "ticks": false, "labels": false, "domain": true, "domainWidth": 2, "title": null}},
        "y": {"field": "v", "type": "quantitative", "scale": {"domain": [0, 4000], "nice": false, "zero": false},
          "axis": {"orient": "right", "zindex": 2, "ticks": false, "labels": false, "domain": true, "domainWidth": 2, "title": null}},
        "text": {"field": "label"}
      }
    },
    {
      "data": {"name": "xmaj"},
      "mark": {"type": "tick", "orient": "vertical", "color": "#000000", "size": 14, "thickness": 2, "yOffset": -7, "opacity": 1},
      "encoding": {
        "x": {"field": "t", "type": "quantitative", "scale": {"domain": [4, 21.47], "nice": false, "zero": false}, "axis": null},
        "y": {"datum": 0, "type": "quantitative", "scale": {"domain": [0, 4000], "nice": false, "zero": false}, "axis": null}
      }
    },
    {
      "data": {"name": "xmaj"},
      "mark": {"type": "tick", "orient": "vertical", "color": "#000000", "size": 14, "thickness": 2, "yOffset": 7, "opacity": 1},
      "encoding": {
        "x": {"field": "t", "type": "quantitative", "scale": {"domain": [4, 21.47], "nice": false, "zero": false}, "axis": null},
        "y": {"datum": 4000, "type": "quantitative", "scale": {"domain": [0, 4000], "nice": false, "zero": false}, "axis": null}
      }
    },
    {
      "data": {"name": "xmin"},
      "mark": {"type": "tick", "orient": "vertical", "color": "#000000", "size": 7, "thickness": 2, "yOffset": -3.5, "opacity": 1},
      "encoding": {
        "x": {"field": "t", "type": "quantitative", "scale": {"domain": [4, 21.47], "nice": false, "zero": false}, "axis": null},
        "y": {"datum": 0, "type": "quantitative", "scale": {"domain": [0, 4000], "nice": false, "zero": false}, "axis": null}
      }
    },
    {
      "data": {"name": "xmin"},
      "mark": {"type": "tick", "orient": "vertical", "color": "#000000", "size": 7, "thickness": 2, "yOffset": 3.5, "opacity": 1},
      "encoding": {
        "x": {"field": "t", "type": "quantitative", "scale": {"domain": [4, 21.47], "nice": false, "zero": false}, "axis": null},
        "y": {"datum": 4000, "type": "quantitative", "scale": {"domain": [0, 4000], "nice": false, "zero": false}, "axis": null}
      }
    },
    {
      "data": {"name": "ymaj"},
      "mark": {"type": "tick", "orient": "horizontal", "color": "#000000", "size": 18, "thickness": 2, "xOffset": 9, "opacity": 1},
      "encoding": {
        "y": {"field": "v", "type": "quantitative", "scale": {"domain": [0, 4000], "nice": false, "zero": false}, "axis": null},
        "x": {"datum": 4, "type": "quantitative", "scale": {"domain": [4, 21.47], "nice": false, "zero": false}, "axis": null}
      }
    },
    {
      "data": {"name": "ymaj"},
      "mark": {"type": "tick", "orient": "horizontal", "color": "#000000", "size": 18, "thickness": 2, "xOffset": -9, "opacity": 1},
      "encoding": {
        "y": {"field": "v", "type": "quantitative", "scale": {"domain": [0, 4000], "nice": false, "zero": false}, "axis": null},
        "x": {"datum": 21.47, "type": "quantitative", "scale": {"domain": [4, 21.47], "nice": false, "zero": false}, "axis": null}
      }
    },
    {
      "data": {"name": "ymin"},
      "mark": {"type": "tick", "orient": "horizontal", "color": "#000000", "size": 9, "thickness": 2, "xOffset": 4.5, "opacity": 1},
      "encoding": {
        "y": {"field": "v", "type": "quantitative", "scale": {"domain": [0, 4000], "nice": false, "zero": false}, "axis": null},
        "x": {"datum": 4, "type": "quantitative", "scale": {"domain": [4, 21.47], "nice": false, "zero": false}, "axis": null}
      }
    },
    {
      "data": {"name": "ymin"},
      "mark": {"type": "tick", "orient": "horizontal", "color": "#000000", "size": 9, "thickness": 2, "xOffset": -4.5, "opacity": 1},
      "encoding": {
        "y": {"field": "v", "type": "quantitative", "scale": {"domain": [0, 4000], "nice": false, "zero": false}, "axis": null},
        "x": {"datum": 21.47, "type": "quantitative", "scale": {"domain": [4, 21.47], "nice": false, "zero": false}, "axis": null}
      }
    },
    {
      "data": {"values": [
        {"g": 1, "t": 11.5, "v": 0}, {"g": 1, "t": 3.83, "v": -486},
        {"g": 2, "t": 14.0, "v": 0}, {"g": 2, "t": 21.22, "v": -486}
      ]},
      "mark": {"type": "line", "color": "#000000", "strokeWidth": 1.5, "clip": false},
      "encoding": {
        "x": {"field": "t", "type": "quantitative", "scale": {"domain": [4, 21.47], "nice": false, "zero": false}, "axis": null},
        "y": {"field": "v", "type": "quantitative", "scale": {"domain": [0, 4000], "nice": false, "zero": false}, "axis": null},
        "detail": {"field": "g", "type": "nominal"}
      }
    }
  ]
}
